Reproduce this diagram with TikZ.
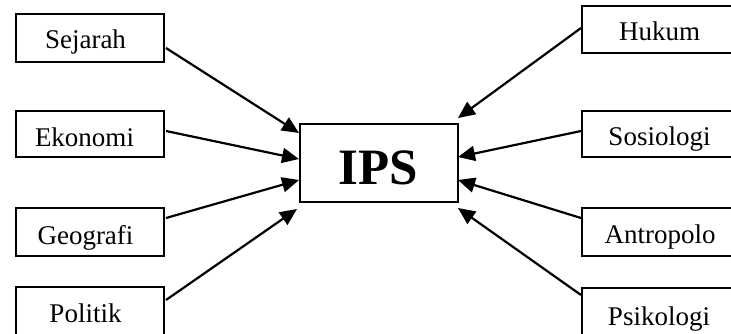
\documentclass[tikz,border=0pt]{standalone}
\usepackage{fontspec}
\setmainfont{Liberation Serif}
\usetikzlibrary{arrows.meta}
\begin{document}
\begin{tikzpicture}[x=1pt,y=-1pt,
  box/.style={draw,line width=2pt,inner sep=0pt,minimum width=#1},
  lbl/.style={anchor=base,inner sep=0pt,font=\fontsize{27}{30}\selectfont},
  conn/.style={line width=2.2pt,-{Triangle[length=17pt,width=15pt]}}]
\useasboundingbox[fill=white] (0,0) rectangle (731,333);
% left boxes
\node[box=148,minimum height=48] (sej) at (90,38) {};
\node[box=148,minimum height=46] (eko) at (90,134) {};
\node[box=148,minimum height=48] (geo) at (90,232) {};
\node[box=148,minimum height=60] (pol) at (90,317) {};
% centre
\node[box=157.7,minimum height=77.7] (ips) at (378.9,162.9) {};
% right boxes
\node[box=178.3,minimum height=47] (huk) at (670.9,29.5) {};
\node[box=178.3,minimum height=46] (sos) at (670.9,134) {};
\node[box=178.3,minimum height=48] (ant) at (670.9,232) {};
\node[box=178.3,minimum height=60] (psi) at (670.9,318) {};
% labels
\node[lbl] (tsej) at (85.5,48.3) {Sejarah};
\node[lbl] (teko) at (84.5,146.7) {Ekonomi};
\node[lbl] (tgeo) at (85.5,244) {Geografi};
\node[lbl] (tpol) at (85.5,322.7) {Politik};
\node[lbl] (thuk) at (659.5,40.7) {Hukum};
\node[lbl] (tsos) at (659.5,145.7) {Sosiologi};
\node[lbl] (tant) at (660,243) {Antropolo};
\node[lbl] (tpsi) at (659,325) {Psikologi};
\node[anchor=base,inner sep=0pt,font=\fontsize{51}{56}\selectfont\bfseries] (tips) at (378.5,184) {IPS};
% connector end points
\coordinate (s1) at (166,48);  \coordinate (e1) at (299,133);
\coordinate (s2) at (166,131); \coordinate (e2) at (299,159);
\coordinate (s3) at (166,218); \coordinate (e3) at (299,180);
\coordinate (s4) at (166,300); \coordinate (e4) at (297,209);
\coordinate (s5) at (581,28);  \coordinate (e5) at (458,118);
\coordinate (s6) at (581,131); \coordinate (e6) at (458,157);
\coordinate (s7) at (581,218); \coordinate (e7) at (458,180);
\coordinate (s8) at (581,295); \coordinate (e8) at (458,208);
\foreach \i in {1,...,8} {\draw[conn] (s\i) -- (e\i);}
\end{tikzpicture}
\end{document}
